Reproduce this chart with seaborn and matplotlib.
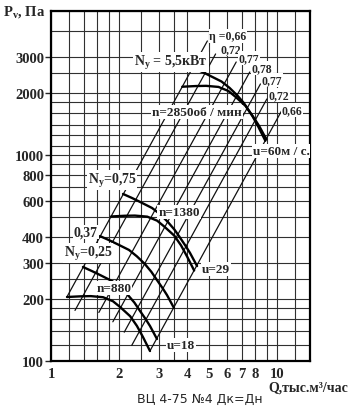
import numpy as np
import pandas as pd
import matplotlib
matplotlib.use("Agg")
import matplotlib.pyplot as plt
import seaborn as sns

# ---------------- data ----------------
# fan P-Q curves for each speed n (Q in thousand m3/h, P in Pa)
pq_880_q = [1.177, 1.35, 1.50, 1.70, 1.88, 2.02, 2.24, 2.40, 2.55, 2.742]
pq_880_p = [204.5, 206, 206.5, 204, 195, 183, 165, 148, 131, 111.8]
pq_1380_q = [1.846, 2.117, 2.352, 2.666, 2.948, 3.167, 3.512, 3.763, 3.998, 4.30]
pq_1380_p = [503, 507, 508, 502, 480, 450, 406, 364, 322, 275]
pq_2850_q = [3.81, 4.37, 4.86, 5.51, 6.09, 6.54, 7.26, 7.77, 8.26, 8.88]
pq_2850_p = [2145, 2161, 2166, 2140, 2046, 1920, 1731, 1553, 1374, 1173]

# motor power limit curves N_y
ny_025_q = [1.385, 1.52, 1.647, 1.862, 2.02, 2.19, 2.34, 2.477, 2.62, 2.742, 2.944]
ny_025_p = [286, 273, 261.6, 244.5, 228, 209, 192, 174.9, 160, 147.9, 127.9]
ny_037_q = [1.647, 1.807, 1.958, 2.214, 2.40, 2.60, 2.78, 2.945, 3.115, 3.26, 3.50]
ny_037_p = [404, 386, 370, 346, 322, 296, 271, 247, 226, 209, 181]
ny_075_q = [2.083, 2.286, 2.477, 2.80, 3.04, 3.29, 3.52, 3.73, 3.94, 4.12, 4.43]
ny_075_p = [647, 618, 592, 553, 516, 473, 434, 396, 362, 335, 289]
ny_55_q = [4.22, 4.64, 5.02, 5.68, 6.16, 6.68, 7.14, 7.55, 7.99, 8.36, 8.98]
ny_55_p = [2660, 2539, 2433, 2274, 2120, 1944, 1786, 1627, 1488, 1376, 1190]

# efficiency lines (straight on log-log): lower and upper end points
eta_labels = ["0,66", "0,72", "0,77", "0,78", "0,77", "0,72", "0,66"]
eta_q_lo = [1.177, 1.277, 1.628, 1.878, 2.109, 2.276, 2.742]
eta_p_lo = [205, 176, 172, 155, 138, 119, 112]
eta_q_hi = [4.92, 5.35, 6.60, 7.58, 8.45, 9.02, 10.47]
eta_p_hi = [3577, 3093, 2828, 2529, 2212, 1870, 1635]

x_ticks = [1, 2, 3, 4, 5, 6, 7, 8, 10]
x_tick_labels = ["1", "2", "3", "4", "5", "6", "7", "8", "10"]
x_grid = [1.2, 1.4, 1.6, 1.8, 2.5, 3.5, 9, 12, 14]
y_ticks = [100, 200, 300, 400, 600, 800, 1000, 2000, 3000]
y_tick_labels = ["100", "200", "300", "400", "600", "800", "1000", "2000", "3000"]
y_grid = [120, 140, 160, 180, 250, 500, 700, 900, 1100, 1250, 1400, 1600, 1800,
          2500, 4000, 5000]

# ---------------- figure ----------------
sns.set_theme(style="white")
plt.rcParams["font.family"] = ["Liberation Serif", "DejaVu Serif"]
plt.rcParams["mathtext.fontset"] = "custom"
plt.rcParams["mathtext.rm"] = "Liberation Serif:bold"
plt.rcParams["mathtext.it"] = "Liberation Serif:bold"
plt.rcParams["mathtext.bf"] = "Liberation Serif:bold"

W, H = 360, 410
fig = plt.figure(figsize=(W / 100, H / 100), dpi=100)
ax = fig.add_axes([51 / W, 48 / H, 259 / W, 350 / H])
ax.set_xscale("log")
ax.set_yscale("log")

curves = {
    "n880": (pq_880_q, pq_880_p), "n1380": (pq_1380_q, pq_1380_p),
    "n2850": (pq_2850_q, pq_2850_p), "N025": (ny_025_q, ny_025_p),
    "N037": (ny_037_q, ny_037_p), "N075": (ny_075_q, ny_075_p),
    "N55": (ny_55_q, ny_55_p),
}
rows = []
for name, (qs, ps) in curves.items():
    for i, (q, p) in enumerate(zip(qs, ps)):
        rows.append({"curve": name, "i": i, "Q": q, "P": p})
df = pd.DataFrame(rows)

erows = []
for k in range(len(eta_labels)):
    erows.append({"line": k, "Q": eta_q_lo[k], "P": eta_p_lo[k]})
    erows.append({"line": k, "Q": eta_q_hi[k], "P": eta_p_hi[k]})
edf = pd.DataFrame(erows)

sns.lineplot(data=edf, x="Q", y="P", units="line", estimator=None, sort=False,
             color="#111111", lw=0.9, ax=ax, legend=False)
sns.lineplot(data=df, x="Q", y="P", units="curve", estimator=None, sort=False,
             color="#000000", lw=1.7, ax=ax, legend=False)

ax.set_xlim(1, 14)
ax.set_ylim(100, 5000)
ax.set_xticks(x_ticks)
ax.set_xticklabels(x_tick_labels)
ax.set_xticks(x_grid, minor=True)
ax.set_yticks(y_ticks)
ax.set_yticklabels(y_tick_labels)
ax.set_yticks(y_grid, minor=True)
ax.xaxis.set_minor_formatter(matplotlib.ticker.NullFormatter())
ax.yaxis.set_minor_formatter(matplotlib.ticker.NullFormatter())
ax.grid(True, which="both", color="#303030", lw=0.8)
ax.set_axisbelow(True)
ax.tick_params(axis="y", which="major", length=4, width=1, direction="out",
               labelsize=10.5, pad=1, left=True)
ax.tick_params(axis="x", which="major", length=0, labelsize=10.5, pad=4)
ax.tick_params(which="minor", length=0)
for lab in ax.get_xticklabels() + ax.get_yticklabels():
    lab.set_fontweight("bold")
for s in ax.spines.values():
    s.set_linewidth(1.6)
    s.set_color("black")
ax.set_xlabel("")
ax.set_ylabel("")


def px(x, y):
    return (x / W, 1 - y / H)


box = dict(facecolor="white", edgecolor="none", pad=0.6)


def lbl(x, y, s, size=9.5, ha="center", bbox=True, **kw):
    fig.text(*px(x, y), s, ha=ha, va="center", fontsize=size, fontweight="bold",
             bbox=box if bbox else None, **kw)


lbl(3, 12, "P$_\\mathrm{v}$, Па", size=10.5, ha="left", bbox=False)
lbl(171, 63, "N$_\\mathrm{y}$ = 5,5кВт", size=10)
lbl(197, 113, "n=2850об / мин", size=9.5)
lbl(228, 37, "η =0,66", size=8.5)
eta_lbl_pos = [(231, 50), (249, 59), (262, 69), (272, 81), (279, 96), (292, 111)]
for (x, y), t in zip(eta_lbl_pos, eta_labels[1:]):
    lbl(x, y, t, size=8.5)
lbl(281, 152, "u=60м / с.", size=9.5)
lbl(112, 181, "N$_\\mathrm{y}$=0,75", size=10)
lbl(179, 213, "n=1380", size=9.5)
lbl(86, 233, "0,37", size=10)
lbl(88, 254, "N$_\\mathrm{y}$=0,25", size=10)
lbl(216, 270, "u=29", size=9.5)
lbl(114, 289, "n=880", size=9.5)
lbl(181, 346, "u=18", size=9.5)

fig.text(*px(308, 388), "Q,тыс.м³/час", ha="center", va="center", fontsize=10,
         fontweight="bold")
fig.text(*px(200, 399), "ВЦ 4-75 №4 Дк=Дн", ha="center", va="center",
         fontsize=9, family=["DejaVu Sans"])

fig.savefig("out.png", dpi=100, facecolor="white")
